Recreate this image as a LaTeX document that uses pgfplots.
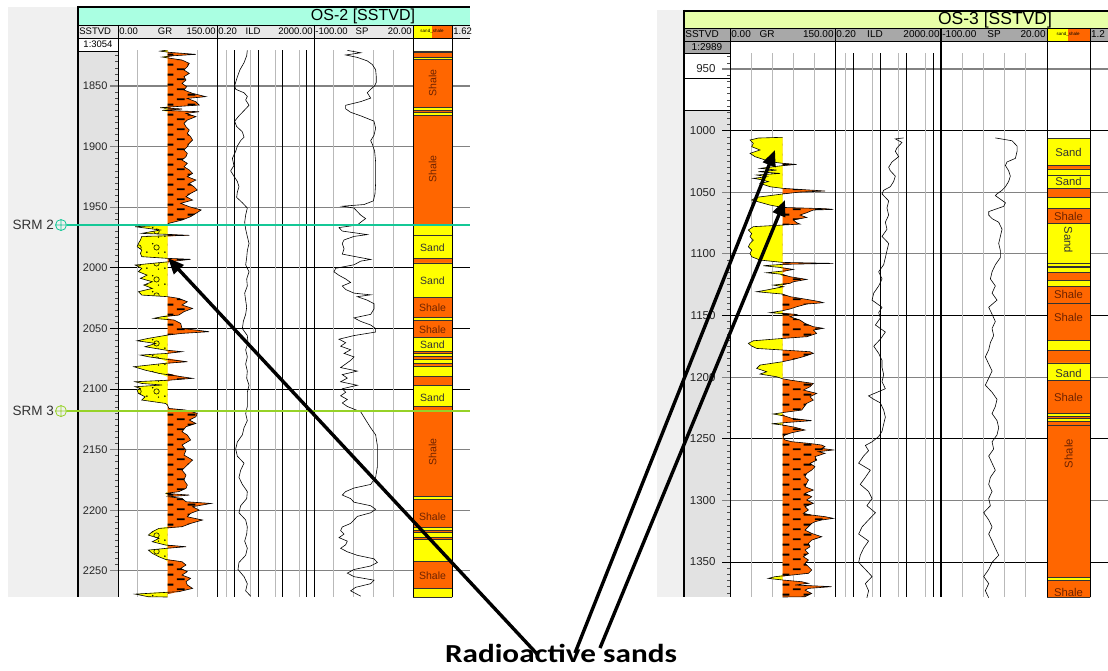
\documentclass[border=0pt]{standalone}
\usepackage{graphicx}
\usepackage{pgfplots}
\pgfplotsset{compat=1.18}
\usepackage{pgfplotstable}
\usepackage{fontspec}
\setmainfont{Liberation Sans}
\newfontfamily\calib{Carlito}
\usetikzlibrary{patterns.meta,arrows.meta}

\definecolor{shaleor}{RGB}{255,102,0}
\definecolor{sandye}{RGB}{255,255,0}
\definecolor{titleA}{RGB}{170,255,226}
\definecolor{titleB}{RGB}{232,255,168}
\definecolor{leftgrey}{RGB}{240,240,240}
\definecolor{colgrey}{RGB}{226,226,226}
\definecolor{hdrA}{RGB}{232,232,232}
\definecolor{hdrB}{RGB}{168,168,168}
\definecolor{srmtwo}{RGB}{20,200,150}
\definecolor{srmthree}{RGB}{150,210,40}
\definecolor{gridgrey}{RGB}{130,130,130}
\definecolor{vgrid}{RGB}{185,185,185}
\definecolor{shaletext}{RGB}{110,35,0}

\tikzdeclarepattern{
  name=shalepat,
  type=uncolored,
  bottom left={(0pt,0pt)},
  top right={(22pt,10pt)},
  tile size={(22pt,10pt)},
  code={
    \fill (1pt,1pt) rectangle (9pt,3pt);
    \fill (12pt,6pt) rectangle (20pt,8pt);
  }
}
\tikzdeclarepattern{
  name=sandpat,
  type=uncolored,
  bottom left={(0pt,0pt)},
  top right={(18pt,16pt)},
  tile size={(18pt,16pt)},
  code={
    \fill (3pt,3pt) circle (0.9pt);
    \fill (9pt,12pt) circle (0.9pt);
    \fill (15pt,2pt) circle (0.7pt);
    \draw[line width=0.6pt] (13pt,8pt) circle (2.8pt);
  }
}

% ---------------- OS-2 data ----------------
\pgfplotstableread{
d gr
1820.3 75
1821.2 64
1822.2 77
1823.9 118
1825.0 85
1826.1 67
1827.2 80
1828.6 97
1831.3 108
1834.1 105
1836.8 100
1839.6 108
1842.3 100
1845.1 103
1847.8 97
1850.6 104
1853.3 100
1856.1 113
1858.8 133
1860.2 105
1863.0 118
1865.7 123
1867.1 85
1867.9 64
1869.0 97
1870.1 67
1871.2 123
1872.6 103
1875.3 118
1878.1 105
1880.8 100
1883.6 103
1886.3 108
1889.1 105
1891.8 110
1894.6 113
1897.3 108
1900.1 105
1902.8 100
1905.6 105
1908.3 103
1911.1 97
1913.8 105
1916.6 100
1919.3 108
1922.1 113
1924.8 105
1927.6 118
1930.3 108
1933.1 115
1935.8 120
1938.6 110
1941.3 103
1944.1 113
1946.8 95
1949.6 108
1952.3 126
1955.1 118
1957.8 110
1960.6 97
1963.3 77
1964.7 75
1966.1 26
1968.8 64
1971.6 36
1972.4 75
1973.2 108
1974.1 36
1977.1 34
1979.8 31
1982.6 29
1985.3 36
1988.1 34
1990.8 36
1992.2 75
1993.0 110
1995.0 77
1997.7 26
2000.5 36
2003.2 31
2006.0 44
2008.7 34
2011.5 52
2014.2 39
2017.0 52
2019.7 31
2022.5 36
2023.8 75
2025.2 92
2028.0 105
2030.7 97
2033.5 113
2036.2 100
2039.0 92
2040.3 67
2041.7 54
2043.1 85
2045.9 95
2050.0 97
2052.7 138
2054.1 97
2055.5 75
2058.2 46
2060.2 29
2062.4 57
2065.1 41
2067.9 72
2069.2 97
2070.6 75
2072.0 34
2073.4 46
2074.7 62
2077.5 105
2078.9 69
2081.6 24
2084.4 41
2087.1 62
2089.9 97
2091.2 113
2092.6 80
2094.0 26
2095.4 36
2096.7 67
2098.1 26
2099.5 34
2100.9 29
2103.6 31
2106.4 41
2109.1 36
2111.9 72
2113.2 75
2116.0 77
2117.4 103
2120.1 120
2122.9 118
2125.6 108
2128.4 118
2131.1 103
2135.2 97
2138.0 105
2142.1 110
2146.2 97
2150.4 103
2154.5 100
2158.6 113
2162.7 105
2166.9 97
2171.0 103
2175.1 100
2179.2 105
2182.0 103
2184.7 92
2186.1 72
2187.5 108
2188.9 77
2190.2 97
2193.0 103
2194.4 141
2197.1 113
2199.9 123
2202.6 110
2205.4 105
2208.1 128
2210.9 110
2213.6 97
2215.0 62
2217.7 52
2220.5 46
2223.2 62
2226.0 52
2228.7 72
2230.1 103
2231.5 72
2232.9 46
2235.6 52
2238.4 62
2240.6 72
2242.5 97
2245.2 103
2248.0 95
2250.7 105
2253.5 97
2256.2 110
2259.0 103
2261.7 105
2264.5 113
2267.2 92
2269.2 26
2271.4 46
2271.6 75
}\grA

\pgfplotstableread{
d ild
1820.6 3.56
1825.0 3.35
1830.8 2.6
1836.6 1.77
1842.5 1.38
1846.9 1.18
1849.8 1.07
1852.7 1.18
1855.6 2.6
1858.6 3.56
1861.5 3.04
1865.9 4.18
1870.3 2.6
1874.6 1.61
1879.0 1.07
1883.4 1.29
1887.8 2.22
1892.2 2.6
1895.1 1.89
1899.5 1.38
1903.9 1.18
1909.7 0.86
1915.6 1.0
1920.0 0.73
1924.4 1.0
1928.7 1.38
1933.1 1.61
1937.5 1.38
1941.9 1.29
1946.3 2.22
1950.7 3.56
1956.5 3.04
1962.4 2.77
1968.2 3.04
1974.1 3.56
1979.9 4.18
1985.8 3.56
1991.6 3.35
1997.5 3.04
2003.3 4.18
2009.2 3.35
2015.0 3.56
2020.9 2.77
2026.7 3.04
2032.5 3.35
2038.4 3.04
2044.2 2.44
2050.1 2.22
2055.9 3.56
2061.8 3.79
2067.6 3.04
2073.5 3.56
2079.3 3.04
2085.2 3.56
2091.0 3.35
2096.9 4.18
2102.7 3.56
2108.6 3.56
2114.4 3.56
2120.3 3.04
2126.1 3.56
2132.0 2.6
2137.8 2.22
2143.7 1.38
2149.5 1.18
2155.4 1.38
2161.2 2.6
2167.0 1.89
2172.9 1.61
2178.7 2.22
2184.6 3.56
2190.4 3.35
2196.3 1.89
2202.1 1.61
2208.0 3.04
2213.8 3.56
2219.7 3.35
2225.5 2.77
2231.4 3.56
2237.2 3.04
2243.1 1.61
2248.9 1.47
2254.8 2.6
2260.6 3.56
2266.5 3.04
2270.9 4.9
}\ildA

\pgfplotstableread{
d sp
1820.6 -59.6
1822.6 -43.4
1824.4 -61.6
1826.4 -47.5
1829.3 -35.4
1832.3 -29.3
1836.6 -25.3
1842.5 -24.5
1846.9 -24.5
1849.8 -26.5
1852.7 -31.3
1855.6 -35.4
1860.0 -31.3
1862.9 -43.4
1865.9 -61.6
1868.8 -61.6
1871.7 -55.6
1874.6 -43.4
1879.0 -27.3
1884.9 -25.3
1890.7 -27.3
1895.1 -31.3
1898.0 -29.3
1903.9 -26.5
1912.7 -25.3
1921.4 -25.3
1930.2 -25.3
1939.0 -26.1
1944.8 -28.1
1947.8 -39.4
1949.2 -65.7
1950.7 -51.5
1953.6 -47.5
1956.5 -43.4
1959.4 -37.4
1962.4 -43.4
1964.7 -47.5
1966.8 -69.7
1969.7 -65.7
1972.6 -35.4
1974.1 -51.5
1977.0 -63.6
1979.9 -65.7
1984.3 -63.6
1988.7 -65.7
1991.6 -43.4
1993.1 -31.3
1994.5 -43.4
1997.5 -51.5
2000.4 -73.7
2003.3 -75.8
2006.2 -69.7
2009.2 -61.6
2012.1 -55.6
2015.0 -65.7
2017.9 -61.6
2020.9 -51.5
2022.3 -31.3
2023.8 -47.5
2026.7 -35.4
2029.6 -27.3
2034.0 -27.3
2038.4 -31.3
2041.3 -51.5
2044.2 -43.4
2047.2 -31.3
2050.1 -25.3
2053.0 -25.3
2055.9 -51.5
2058.9 -69.7
2061.8 -61.6
2064.7 -67.7
2067.6 -55.6
2070.6 -63.6
2073.5 -51.5
2076.4 -55.6
2079.3 -61.6
2082.3 -67.7
2085.2 -47.5
2088.1 -65.7
2091.0 -59.6
2094.0 -67.7
2096.9 -47.5
2099.8 -65.7
2102.7 -61.6
2105.6 -67.7
2108.6 -59.6
2111.5 -65.7
2114.4 -59.6
2118.8 -43.4
2123.2 -39.4
2127.6 -35.4
2132.0 -31.3
2137.8 -25.3
2146.6 -23.2
2155.4 -23.2
2164.1 -23.2
2172.9 -25.3
2178.7 -31.3
2181.7 -51.5
2184.6 -61.6
2187.5 -65.7
2190.4 -55.6
2193.4 -51.5
2196.3 -31.3
2199.2 -25.3
2202.1 -31.3
2205.1 -47.5
2208.0 -51.5
2210.9 -55.6
2213.8 -65.7
2216.8 -67.7
2219.7 -63.6
2222.6 -69.7
2225.5 -59.6
2228.5 -61.6
2231.4 -67.7
2234.3 -59.6
2237.2 -47.5
2240.1 -27.3
2243.1 -23.2
2246.0 -31.3
2248.9 -51.5
2251.9 -59.6
2254.8 -51.5
2257.7 -27.3
2260.6 -31.3
2263.6 -49.5
2266.5 -55.6
2270.9 -43.4
}\spA

\pgfplotstableread{
d o s
1821.0 0 1
1822.4 1 0
1826.1 0 1
1827.7 1 0
1867.7 0 1
1870.0 1 0
1871.5 0 1
1874.0 1 0
1964.7 0 1
1973.5 0 1
1991.9 1 0
1996.0 0 1
2024.1 1 0
2040.6 0 1
2043.1 1 0
2057.1 0 1
2069.1 1 0
2070.7 0 1
2072.8 1 0
2075.2 0 1
2078.5 1 0
2081.0 0 1
2089.8 1 0
2096.7 0 1
2114.0 1 0
2188.3 0 1
2190.8 1 0
2214.3 0 1
2216.3 1 0
2218.0 0 1
2222.1 1 0
2223.8 0 1
2242.3 1 0
2264.2 0 1
2271.6 0 0
}\lithA

% ---------------- OS-3 data ----------------
\pgfplotstableread{
d gr
1005.4 75
1006.0 40.5
1007.6 28.6
1010.3 33.3
1013.0 31.0
1015.7 42.9
1018.4 28.6
1021.1 35.7
1023.3 47.6
1025.2 57.1
1026.5 75
1027.4 95.2
1028.4 75
1030.6 42.9
1032.0 66.7
1033.3 40.5
1034.7 71.4
1036.0 38.1
1037.4 52.4
1038.7 33.3
1040.1 47.6
1041.4 54.8
1042.8 42.9
1045.5 57.1
1046.8 75
1048.2 114.3
1049.0 135.7
1049.8 100
1051.4 75
1054.1 38.1
1056.3 31.0
1058.5 45.2
1060.4 57.1
1062.3 75
1063.3 135.7
1063.9 147.6
1064.4 119
1066.6 109.5
1068.5 100
1070.4 109.5
1072.5 90.5
1074.7 95.2
1075.8 100
1076.6 75
1077.9 33.3
1080.6 26.2
1083.4 31.0
1086.1 28.6
1088.8 33.3
1091.5 28.6
1094.2 26.2
1096.9 31.0
1099.6 28.6
1102.3 31.0
1105.0 42.9
1106.9 75
1107.7 147.6
1108.5 75
1109.6 47.6
1111.0 71.4
1112.6 90.5
1113.6 81
1115.3 52.4
1116.4 71.4
1118.5 85.7
1120.7 109.5
1122.6 90.5
1123.9 85.7
1125.3 61.9
1126.6 76.2
1129.3 52.4
1130.7 38.1
1132.6 75
1134.7 85.7
1136.9 109.5
1138.8 128.6
1139.6 133.3
1140.7 109.5
1142.9 95.2
1144.7 85.7
1146.1 75
1147.7 57.1
1149.1 95.2
1151.0 85.7
1153.7 100
1156.4 107.1
1159.1 119
1160.4 133.3
1161.8 119
1164.5 123.8
1167.2 109.5
1168.6 75
1170.5 33.3
1172.6 26.2
1174.8 31.0
1176.7 38.1
1178.0 75
1179.4 114.3
1180.7 119
1183.4 104.8
1185.6 90.5
1187.5 75
1190.2 42.9
1192.9 38.1
1195.6 52.4
1197.5 42.9
1199.7 66.7
1201.3 75
1202.4 85.7
1205.1 119
1207.8 114.3
1210.5 104.8
1213.2 123.8
1215.9 114.3
1218.6 119
1221.3 109.5
1226.7 102.4
1228.8 75
1229.9 61.9
1231.6 78.6
1233.4 88.1
1235.3 116.7
1236.9 78.6
1237.8 59.5
1238.9 76.2
1240.7 92.9
1242.9 107.1
1245.1 88.1
1247.0 78.6
1248.3 76.2
1249.7 76.2
1251.0 78.6
1252.4 88.1
1253.7 112
1255.1 131
1256.4 135.7
1257.8 131
1259.1 147.6
1260.5 126.2
1261.8 135.7
1263.2 128.6
1264.5 121.4
1267.3 123.8
1270.0 114.3
1272.7 121.4
1275.4 116.7
1278.1 109.5
1280.8 107.1
1283.5 112
1286.2 109.5
1288.9 107.1
1291.6 119
1294.3 107.1
1297.0 116.7
1299.7 109.5
1302.4 119
1305.1 107.1
1307.8 112
1310.5 104.8
1311.9 116.7
1313.2 135.7
1314.6 147.6
1315.9 131
1317.3 121.4
1318.7 116.7
1321.4 112
1324.1 107.1
1326.8 116.7
1329.5 131
1332.2 116.7
1334.9 112
1337.6 114.3
1340.3 107.1
1343.0 112
1345.7 104.8
1348.4 112
1351.1 107.1
1353.8 112
1356.5 116.7
1359.2 112
1360.6 88.1
1361.9 64.3
1363.3 54.8
1364.6 75
1366.0 102.4
1367.3 112
1368.7 92.9
1370.0 145.2
1371.4 112
1372.8 107.1
1375.5 116.7
1378.2 107.1
1378.4 75
}\grB

\pgfplotstableread{
d ild
1005.9 78
1006.7 37.8
1009.6 67.5
1013.9 43.8
1016.8 37.8
1021.1 50.5
1025.4 28.3
1029.7 21.2
1032.6 24.5
1036.9 37.8
1041.2 32.7
1045.5 24.5
1048.4 13.7
1051.3 11.9
1057.0 21.2
1062.8 18.3
1068.5 21.2
1074.3 15.9
1080.0 18.3
1085.8 11.9
1091.5 21.2
1097.3 18.3
1103.0 15.9
1108.8 13.7
1114.5 8.9
1120.3 11.9
1126.0 8.9
1131.8 5.8
1137.5 5.0
1143.3 11.9
1147.6 8.9
1151.9 10.3
1157.7 6.7
1163.4 15.9
1169.2 10.3
1174.9 5.8
1180.7 8.9
1186.4 11.9
1192.2 11.9
1197.9 13.7
1203.7 11.9
1209.4 15.9
1215.2 3.7
1218.0 5.8
1220.9 10.3
1226.7 13.7
1232.4 15.9
1238.2 13.7
1243.9 11.9
1248.2 8.9
1252.5 5.0
1255.4 2.8
1259.7 3.7
1264.0 2.4
1269.8 1.56
1275.5 4.3
1281.3 2.8
1287.0 1.8
1292.8 3.7
1298.5 5.0
1304.3 3.2
1310.0 6.7
1315.8 3.7
1321.5 2.1
1327.3 1.56
1333.0 3.7
1338.8 2.4
1344.5 1.8
1350.3 1.56
1356.0 2.8
1361.8 5.0
1367.5 2.8
1373.3 3.7
1379.0 3.2
}\ildB

\pgfplotstableread{
d sp
1005.9 -38.5
1008.2 -19.6
1012.5 -13.9
1016.8 -13.9
1022.5 -15.8
1025.4 -25.3
1028.3 -27.1
1032.6 -23.4
1036.9 -21.5
1041.2 -23.4
1045.5 -27.1
1048.4 -30.9
1051.3 -36.6
1052.7 -38.5
1055.6 -32.8
1058.5 -27.1
1061.4 -29.0
1065.7 -46.0
1068.5 -46.0
1071.4 -42.2
1074.3 -34.7
1080.0 -30.9
1085.8 -32.8
1091.5 -34.7
1097.3 -32.8
1103.0 -32.8
1108.8 -38.5
1114.5 -42.2
1120.3 -44.1
1126.0 -38.5
1131.8 -42.2
1137.5 -36.6
1143.3 -46.0
1149.0 -42.2
1154.8 -38.5
1160.5 -42.2
1166.3 -40.4
1172.0 -44.1
1177.8 -46.0
1183.5 -49.8
1189.3 -46.0
1195.0 -42.2
1200.8 -46.0
1206.5 -49.8
1212.3 -42.2
1218.0 -36.6
1223.8 -38.5
1229.5 -42.2
1235.3 -36.6
1241.0 -34.7
1246.8 -36.6
1252.5 -42.2
1258.3 -40.4
1264.0 -46.0
1269.8 -42.2
1275.5 -38.5
1281.3 -44.1
1287.0 -46.0
1292.8 -42.2
1298.5 -46.0
1304.3 -44.1
1310.0 -51.7
1315.8 -46.0
1321.5 -42.2
1327.3 -46.0
1333.0 -42.2
1338.8 -38.5
1344.5 -34.7
1350.3 -42.2
1356.0 -46.0
1361.8 -51.7
1367.5 -46.0
1373.3 -49.8
1379.0 -46.0
}\spB

\pgfplotstableread{
d o s
1006.2 0 1
1027.9 1 0
1031.1 0 1
1036.0 0 1
1046.8 1 0
1054.1 0 1
1063.0 1 0
1075.5 0 1
1107.6 0 1
1109.8 1 0
1110.6 0 1
1114.7 1 0
1121.2 0 1
1126.1 1 0
1139.9 1 0
1170.0 0 1
1178.1 1 0
1188.5 0 1
1202.3 1 0
1229.1 0 1
1231.5 1 0
1233.2 0 1
1235.6 1 0
1238.8 1 0
1362.2 0 1
1364.6 1 0
1378.4 0 0
}\lithB

\pgfplotsset{
  trk/.style={scale only axis, anchor=north west, enlargelimits=false, y dir=reverse,
    axis line style={draw=none}, major tick length=0pt, minor tick length=0pt,
    xticklabels={}, yticklabels={}, ytick=\empty, xmajorgrids,
    grid style={vgrid, line width=1pt}, clip=true},
  wellA/.style={ymin=1820.3, ymax=2271.6, height=547pt},
  wellB/.style={ymin=937.0, ymax=1378.4, height=544pt},
  depthax/.style={scale only axis, anchor=north west, y dir=reverse, xmin=0, xmax=1,
    axis x line=none, axis y line*=right, y axis line style={draw=none},
    ytick distance=50, minor y tick num=9, tick align=inside,
    major tick length=0pt, minor tick length=3.5pt,
    minor tick style={black!70, line width=0.6pt},
    yticklabel style={anchor=east, xshift=-7pt, text=black!85},
    /pgf/number format/1000 sep={}, /pgf/number format/assume math mode=true},
  gridax/.style={scale only axis, anchor=north west, y dir=reverse, xmin=0, xmax=1,
    axis line style={draw=none}, xtick=\empty, yticklabels={}, extra y tick labels={},
    major tick length=0pt, ymajorgrids, grid style={gridgrey, line width=1.1pt},
    extra y tick style={grid style={black, line width=1pt}}},
  lith/.style={scale only axis, anchor=north west, y dir=reverse, xmin=0, xmax=1,
    enlargelimits=false, axis line style={draw=none}, xtick=\empty, ytick=\empty, clip=true},
}

\begin{document}
\begin{tikzpicture}
\useasboundingbox (0pt,0pt) rectangle (1108pt,-671pt);
\fill[white] (0pt,0pt) rectangle (1108pt,-671pt);

% ---------- backgrounds ----------
\begin{scope}[x=1pt,y=-1pt]
\fill[leftgrey] (8,7) rectangle (78,597);
\fill[titleA] (78,7) rectangle (470,25);
\fill[hdrA] (78,25) rectangle (470,38);
\fill[colgrey] (78,51) rectangle (118,597);
\fill[sandye] (413,25) rectangle (432,38);
\fill[shaleor] (432,25) rectangle (452,38);

\fill[leftgrey] (657,10) rectangle (684,597);
\fill[titleB] (684,11) rectangle (1108,28);
\fill[hdrB] (684,28) rectangle (1108,41);
\fill[hdrB] (684,41) rectangle (730,53);
\fill[colgrey] (684,110) rectangle (730,597);
\fill[sandye] (1047,28) rectangle (1068,41);
\fill[shaleor] (1068,28) rectangle (1090,41);
\end{scope}

% ================= OS-2 =================
\begin{axis}[gridax, wellA, at={(110pt,-50pt)}, width=360pt,
  ytick={1850,1900,1950,2150,2200,2250}, extra y ticks={2000,2050,2100}]
\addplot[draw=none] coordinates {(0,1900)};
\end{axis}

\begin{axis}[depthax, wellA, at={(78pt,-50pt)}, width=40pt,
  yticklabel style={font=\fontsize{11}{11}\selectfont}]
\end{axis}

% GR
\begin{axis}[trk, wellA, at={(118pt,-50pt)}, width=99pt, xmin=0, xmax=150, xtick={30,120}]
\addplot[fill=sandye, draw=none] table[x expr={min(\thisrow{gr},75)}, y=d] {\grA};
\addplot[pattern=sandpat, pattern color=black, draw=none] table[x expr={min(\thisrow{gr},75)}, y=d] {\grA};
\addplot[fill=shaleor, draw=none] table[x expr={max(\thisrow{gr},75)}, y=d] {\grA};
\addplot[pattern=shalepat, pattern color=black, draw=none] table[x expr={max(\thisrow{gr},75)}, y=d] {\grA};
\addplot[black, line width=0.6pt] table[x=gr, y=d] {\grA};
\end{axis}

% ILD
\begin{axis}[trk, wellA, at={(217pt,-50pt)}, width=97pt, xmode=log, xmin=0.2, xmax=2000,
  xtick={0.5,5,50,500}, extra x ticks={1,10,100,1000}, extra x tick labels={},
  extra x tick style={grid style={black, line width=0.8pt}}]
\addplot[black, line width=0.6pt] table[x=ild, y=d] {\ildA};
\end{axis}

% SP
\begin{axis}[trk, wellA, at={(314pt,-50pt)}, width=99pt, xmin=-100, xmax=20,
  xtick={-76,-52,-28,-4}]
\addplot[black, line width=0.6pt] table[x=sp, y=d] {\spA};
\end{axis}

% lithology
\begin{axis}[lith, wellA, at={(413pt,-50pt)}, width=39pt]
\addplot[xbar interval, fill=shaleor, draw=black!80, line width=0.5pt] table[x=o, y=d] {\lithA};
\addplot[xbar interval, fill=sandye, draw=black!80, line width=0.5pt] table[x=s, y=d] {\lithA};
\begin{scope}[font=\fontsize{10.5}{10.5}\selectfont]
\node[rotate=90, text=shaletext] at (axis cs:0.5,1847.5) {Shale};
\node[rotate=90, text=shaletext] at (axis cs:0.5,1918.5) {Shale};
\node[text=black!80] at (axis cs:0.5,1983.7) {Sand};
\node[text=black!80] at (axis cs:0.5,2010.9) {Sand};
\node[text=shaletext] at (axis cs:0.5,2033.2) {Shale};
\node[text=shaletext] at (axis cs:0.5,2051.3) {Shale};
\node[text=black!80] at (axis cs:0.5,2063.7) {Sand};
\node[text=black!80] at (axis cs:0.5,2107.2) {Sand};
\node[rotate=90, text=shaletext] at (axis cs:0.5,2152) {Shale};
\node[text=shaletext] at (axis cs:0.5,2205.4) {Shale};
\node[text=shaletext] at (axis cs:0.5,2254.3) {Shale};
\end{scope}
\end{axis}

% ================= OS-3 =================
\begin{axis}[gridax, wellB, at={(722pt,-53pt)}, width=386pt,
  ytick={950,1050,1100,1200,1300}, extra y ticks={1000,1150,1250,1350}]
\addplot[draw=none] coordinates {(0,1000)};
\end{axis}

\begin{axis}[depthax, wellB, at={(684pt,-53pt)}, width=46pt,
  yticklabel style={font=\fontsize{11.5}{11.5}\selectfont, xshift=-4pt}]
\end{axis}

\begin{axis}[trk, wellB, at={(730pt,-53pt)}, width=105pt, xmin=0, xmax=150, xtick={30,60,90,120}]
\addplot[fill=sandye, draw=none] table[x expr={min(\thisrow{gr},75)}, y=d] {\grB};
\addplot[fill=shaleor, draw=none] table[x expr={max(\thisrow{gr},75)}, y=d] {\grB};
\addplot[pattern=shalepat, pattern color=black, draw=none] table[x expr={max(\thisrow{gr},75)}, y=d] {\grB};
\addplot[black, line width=0.6pt] table[x=gr, y=d] {\grB};
\end{axis}

\begin{axis}[trk, wellB, at={(835pt,-53pt)}, width=106pt, xmode=log, xmin=0.2, xmax=2000,
  xtick={0.5,5,50,500}, extra x ticks={1,10,100,1000}, extra x tick labels={},
  extra x tick style={grid style={black, line width=0.9pt}}]
\addplot[black, line width=0.6pt] table[x=ild, y=d] {\ildB};
\end{axis}

\begin{axis}[trk, wellB, at={(941pt,-53pt)}, width=106pt, xmin=-100, xmax=20,
  xtick={-76,-52,-28,-4}]
\addplot[black, line width=0.6pt] table[x=sp, y=d] {\spB};
\end{axis}

\begin{axis}[lith, wellB, at={(1047pt,-53pt)}, width=43pt]
\addplot[xbar interval, fill=shaleor, draw=black!80, line width=0.5pt] table[x=o, y=d] {\lithB};
\addplot[xbar interval, fill=sandye, draw=black!80, line width=0.5pt] table[x=s, y=d] {\lithB};
\begin{scope}[font=\fontsize{11.3}{11.3}\selectfont]
\node[text=black!80] at (axis cs:0.5,1017.9) {Sand};
\node[text=black!80] at (axis cs:0.5,1041.4) {Sand};
\node[text=shaletext] at (axis cs:0.5,1069.5) {Shale};
\node[rotate=-90, text=black!80] at (axis cs:0.5,1088.7) {Sand};
\node[text=shaletext] at (axis cs:0.5,1132.6) {Shale};
\node[text=shaletext] at (axis cs:0.5,1151.2) {Shale};
\node[text=black!80] at (axis cs:0.5,1196.7) {Sand};
\node[text=shaletext] at (axis cs:0.5,1216.1) {Shale};
\node[rotate=90, text=shaletext] at (axis cs:0.5,1262) {Shale};
\node[text=shaletext] at (axis cs:0.5,1375.1) {Shale};
\end{scope}
\end{axis}

% ---------- borders and header text ----------
\begin{scope}[x=1pt,y=-1pt]
% OS-2
\draw[line width=2pt] (78,6) -- (78,597);
\draw[line width=1.5pt] (77,7) -- (470,7);
\draw[line width=0.8pt] (78,25) -- (470,25);
\draw[line width=0.8pt] (78,38) -- (470,38);
\draw[line width=0.8pt] (78,51) -- (118,51);
\foreach \xx in {118,217,314,413,452} {\draw[line width=0.9pt] (\xx,25) -- (\xx,597);}
\node[font=\fontsize{16}{16}\selectfont] at (363,16.5) {OS-2 [SSTVD]};
\begin{scope}[font=\fontsize{9.5}{9.5}\selectfont, inner sep=1.2pt]
\node[anchor=west] at (78,31.5) {SSTVD};
\node[anchor=west] at (118,31.5) {0.00};
\node at (165,31.5) {GR};
\node[anchor=east] at (217,31.5) {150.00};
\node[anchor=west] at (217,31.5) {0.20};
\node at (253,31.5) {ILD};
\node[anchor=east] at (314,31.5) {2000.00};
\node[anchor=west] at (314,31.5) {-100.00};
\node at (362,31.5) {SP};
\node[anchor=east] at (413,31.5) {20.00};
\node[anchor=west] at (452,31.5) {1.62};
\node at (98,44.5) {1:3054};
\end{scope}
\node[font=\fontsize{4.5}{4.5}\selectfont, inner sep=0pt] at (432,31.5) {sand\_shale};

% OS-3
\draw[line width=2pt] (684,10) -- (684,597);
\draw[line width=1.5pt] (683,11) -- (1108,11);
\draw[line width=0.8pt] (684,28) -- (1108,28);
\draw[line width=0.8pt] (684,41) -- (1108,41);
\draw[line width=0.8pt] (684,53) -- (730,53);
\draw[line width=0.8pt] (684,78) -- (730,78);
\draw[line width=0.8pt] (684,110) -- (730,110);
\foreach \xx in {730,835,1047,1090} {\draw[line width=0.9pt] (\xx,28) -- (\xx,597);}
\draw[line width=1.6pt] (941,28) -- (941,597);
\node[font=\fontsize{17.5}{17.5}\selectfont] at (995,20) {OS-3 [SSTVD]};
\begin{scope}[font=\fontsize{10}{10}\selectfont, inner sep=1.2pt]
\node[anchor=west] at (684,34.5) {SSTVD};
\node[anchor=west] at (730,34.5) {0.00};
\node at (767,34.5) {GR};
\node[anchor=east] at (835,34.5) {150.00};
\node[anchor=west] at (835,34.5) {0.20};
\node at (875,34.5) {ILD};
\node[anchor=east] at (941,34.5) {2000.00};
\node[anchor=west] at (941,34.5) {-100.00};
\node at (994,34.5) {SP};
\node[anchor=east] at (1047,34.5) {20.00};
\node[anchor=west, inner sep=0.8pt] at (1090,34.5) {1.2};
\node at (707,47) {1:2989};
\end{scope}
\node[font=\fontsize{4.5}{4.5}\selectfont, inner sep=0pt] at (1068,34.5) {sand\_shale};
\end{scope}

% ---------- SRM markers ----------
\begin{axis}[scale only axis, anchor=north west, at={(55pt,-50pt)}, width=415pt, wellA,
  y dir=reverse, xmin=55, xmax=470, hide axis, clip=false]
\addplot[srmtwo, line width=1.6pt] coordinates {(67,1964.7) (470,1964.7)};
\addplot[srmthree, line width=1.6pt] coordinates {(67,2118.2) (470,2118.2)};
\addplot[srmtwo, only marks, mark=oplus, mark size=5.5pt, mark options={line width=0.8pt}] coordinates {(61,1964.7)};
\addplot[srmthree, only marks, mark=oplus, mark size=5.5pt, mark options={line width=0.8pt}] coordinates {(61,2118.2)};
\node[anchor=east, text=black!80, font=\fontsize{13.5}{13.5}\selectfont, inner sep=1pt] at (axis cs:55,1964.7) {SRM 2};
\node[anchor=east, text=black!80, font=\fontsize{13.5}{13.5}\selectfont, inner sep=1pt] at (axis cs:55,2118.2) {SRM 3};
\end{axis}

% ---------- arrows and caption ----------
\begin{scope}[x=1pt,y=-1pt]
\draw[line width=3.4pt, -{Triangle[length=16pt,width=13pt]}] (538,655) -- (168,258);
\draw[line width=3.4pt, -{Triangle[length=16pt,width=13pt]}] (575,653) -- (775,150);
\draw[line width=3.4pt, -{Triangle[length=16pt,width=13pt]}] (600,648) -- (785,200);
\node[anchor=base, inner sep=0pt] at (561,662) {\scalebox{1.2}[1]{\calib\bfseries\fontsize{26}{26}\selectfont Radioactive sands}};
\end{scope}
\end{tikzpicture}
\end{document}
